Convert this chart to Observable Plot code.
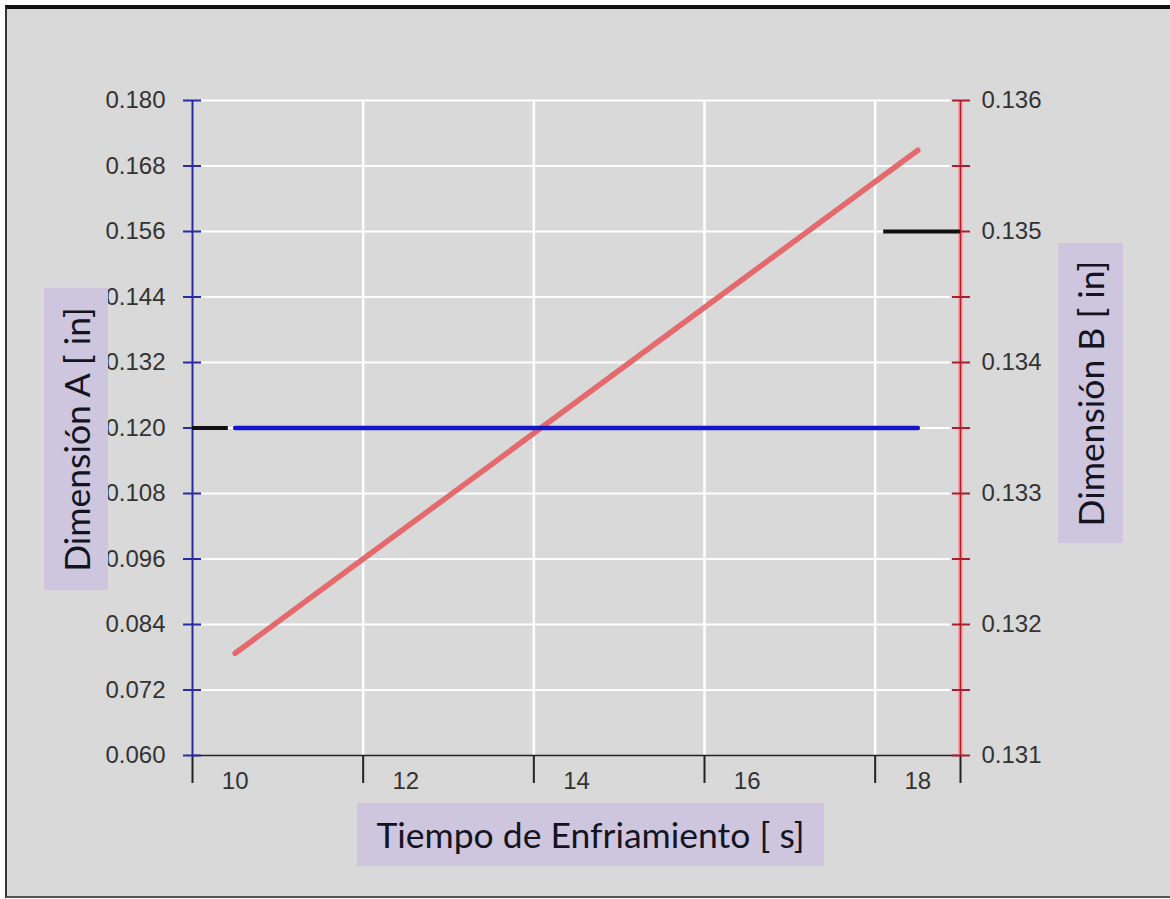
<!DOCTYPE html>
<html>
<head>
<meta charset="utf-8">
<script src="https://cdn.jsdelivr.net/npm/d3@7"></script>
<script src="https://cdn.jsdelivr.net/npm/@observablehq/plot@0.6"></script>
<style>
  html, body { margin: 0; padding: 0; background: #ffffff; }
  #frame { position: absolute; left: 5px; top: 5px; width: 1163px; height: 887px;
           background: #d9d9d9; border-top: 4px solid #111; border-left: 2px solid #333; border-bottom: 2px solid #555; }
  #chart { position: absolute; left: 0; top: 0; }
  .lbl { position: absolute; background: #cec6df; color: #14141e; font-family: Lato, "Open Sans", sans-serif;
         font-size: 35.5px; display: flex; align-items: center; justify-content: center; white-space: nowrap; }
  .lbl span { display: inline-block; }
  .vert span { transform: rotate(-90deg); }
</style>
</head>
<body>
<div id="frame"></div>
<div id="chart"></div>
<script>
// ---- data ----
const tiempo = [10, 12, 14, 16, 18];                       // Tiempo de Enfriamiento [s]
const dimA = [0.120, 0.120, 0.120, 0.120, 0.120];          // Dimensión A [in] (left axis)
const dimB = [0.13178, 0.13274, 0.13370, 0.13466, 0.13562]; // Dimensión B [in] (right axis)

const xTickLabels = [10, 12, 14, 16, 18];
const xTickMarks = [9.5, 11.5, 13.5, 15.5, 17.5, 18.5];
const xGridLines = [11.5, 13.5, 15.5, 17.5];
const yTicksA = [0.060, 0.072, 0.084, 0.096, 0.108, 0.120, 0.132, 0.144, 0.156, 0.168, 0.180];
const yTicksB = [0.131, 0.132, 0.133, 0.134, 0.135, 0.136];
const yMinorB = [0.1315, 0.1325, 0.1335, 0.1345, 0.1355];

// nominal-value markers (black segments)
const nominalA = [{t0: 9.5, t1: 9.92, v: 0.120}];
const nominalB = [{t0: 17.6, t1: 18.5, v: 0.135}];

const xTitle = "Tiempo de Enfriamiento [ s]";
const yTitleA = "Dimensión A [ in]";
const yTitleB = "Dimensión B [ in]";

// ---- dual-axis mapping (B → A scale) ----
const domA = [0.060, 0.180], domB = [0.131, 0.136];
const toA = v => domA[0] + (v - domB[0]) * (domA[1] - domA[0]) / (domB[1] - domB[0]);
const fromA = v => domB[0] + (v - domA[0]) * (domB[1] - domB[0]) / (domA[1] - domA[0]);

const rows = tiempo.map((t, i) => ({t, a: dimA[i], b: dimB[i]}));

const blueAxis = "#2a2aa6", redAxis = "#a8202c";
const fmt = d3.format(".3f");

const chart = Plot.plot({
  width: 1170, height: 899,
  marginLeft: 192, marginRight: 210, marginTop: 100, marginBottom: 144,
  style: {background: "transparent", fontFamily: "'Liberation Sans', Arial, sans-serif"},
  x: {domain: [9.5, 18.5]},
  y: {domain: domA},
  marks: [
    Plot.gridY(yTicksA.slice(1), {stroke: "#ffffff", strokeOpacity: 1, strokeWidth: 2, insetLeft: 9, insetRight: 10}),
    Plot.gridX(xGridLines, {stroke: "#ffffff", strokeOpacity: 1, strokeWidth: 2.5}),
    Plot.ruleY([domA[0]], {stroke: "#222", strokeWidth: 1.5}),
    Plot.ruleX([9.5], {stroke: blueAxis, strokeWidth: 2}),
    Plot.ruleX([18.5], {stroke: "#f3a9b0", strokeWidth: 5}),
    Plot.ruleX([18.5], {stroke: redAxis, strokeWidth: 1.6}),
    // x ticks and labels
    Plot.axisX(xTickMarks, {tickSize: 28, stroke: "#222", strokeWidth: 2, fill: "none", label: null}),
    Plot.axisX(xTickLabels, {tickSize: 0, tickPadding: 16, fill: "#333", fontSize: 24, label: null}),
    // left axis
    Plot.axisY(yTicksA, {anchor: "left", tickSize: 18, dx: 9, stroke: blueAxis, strokeWidth: 2, fill: "none", label: null}),
    Plot.axisY(yTicksA, {anchor: "left", tickSize: 0, tickPadding: 27, fill: "#333", fontSize: 24, tickFormat: fmt, label: null}),
    // right axis
    Plot.axisY([...yTicksB, ...yMinorB].map(toA), {anchor: "right", tickSize: 18, dx: -9, stroke: redAxis, strokeWidth: 2, fill: "none", label: null}),
    Plot.axisY(yTicksB.map(toA), {anchor: "right", tickSize: 0, tickPadding: 21, fill: "#333", fontSize: 24, tickFormat: d => fmt(fromA(d)), label: null}),
    // series
    Plot.line(rows, {x: "t", y: d => toA(d.b), stroke: "#e46a6e", strokeWidth: 5.5}),
    Plot.line(rows, {x: "t", y: "a", stroke: "#1414c8", strokeWidth: 4.5}),
    // nominal markers
    Plot.ruleY(nominalA, {x1: "t0", x2: "t1", y: "v", stroke: "#111", strokeWidth: 4}),
    Plot.ruleY(nominalB, {x1: "t0", x2: "t1", y: d => toA(d.v), stroke: "#111", strokeWidth: 4})
  ]
});
document.getElementById("chart").appendChild(chart);

function addLabel(text, left, top, w, h, vertical) {
  const div = document.createElement("div");
  div.className = "lbl" + (vertical ? " vert" : "");
  div.style.left = left + "px"; div.style.top = top + "px";
  div.style.width = w + "px"; div.style.height = h + "px";
  const span = document.createElement("span");
  span.textContent = text;
  div.appendChild(span);
  document.body.appendChild(div);
}
addLabel(xTitle, 357, 803, 467, 63, false);
addLabel(yTitleA, 44, 288, 64, 302, true);
addLabel(yTitleB, 1058, 243, 65, 300, true);
</script>
</body>
</html>
